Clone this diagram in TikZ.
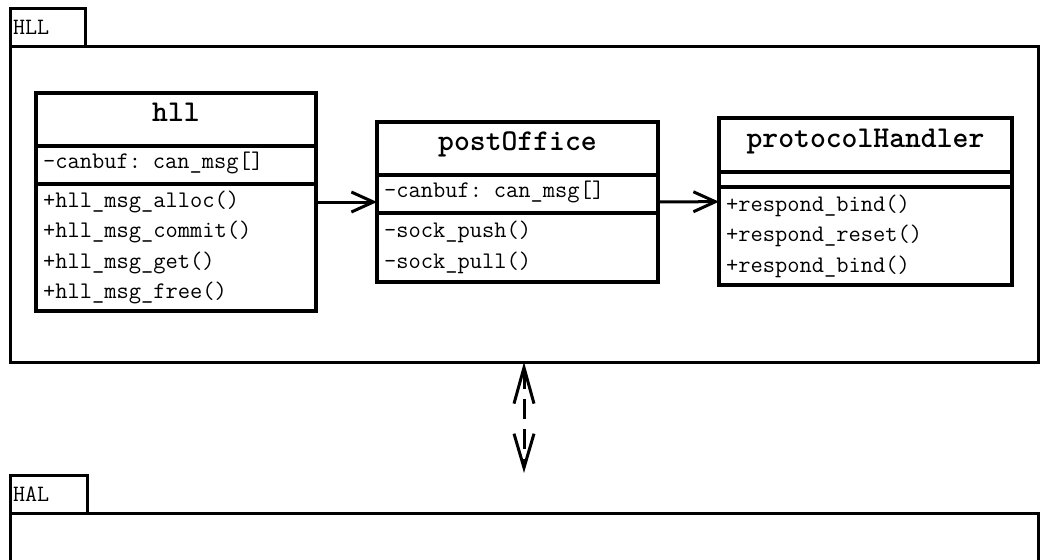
\documentclass[tikz,border=0pt]{standalone}
\usepackage{fontspec}
\usepackage{tikz}
\usetikzlibrary{arrows.meta}
\usetikzlibrary{positioning}
\usetikzlibrary{fit}
\tikzset{
pkgframe/.style={draw, line width=1.5pt, inner sep=0pt, outer sep=0pt},
pkgtab/.style={draw, line width=1.5pt, minimum height=19pt, inner xsep=1.5pt, inner ysep=0pt, outer sep=0pt, align=left, font=\ttfamily\fontsize{11.7}{12}\selectfont},
classname/.style={draw, line width=1.6pt, inner sep=0pt, outer sep=0pt, font=\ttfamily\bfseries\fontsize{15.1}{16}\selectfont, text height=7pt, text depth=5pt},
classpart/.style={draw, line width=1.6pt, inner xsep=3.5pt, inner ysep=0pt, outer sep=0pt, align=left, font=\ttfamily\fontsize{11.9}{15.25}\selectfont},
attrs/.style={classpart, text height=7pt, text depth=3.5pt},
classbox/.style={inner sep=0pt, outer sep=0pt},
assoc/.style={line width=1.5pt, -{Straight Barb[length=11pt,width=10pt]}},
dep/.style={line width=1.5pt, dash pattern=on 10pt off 5pt, {Straight Barb[length=18pt,width=10pt]}-{Straight Barb[length=17pt,width=10pt]}}
}
\begin{document}
\begin{tikzpicture}[x=0.5pt, y=-0.5pt]
    \useasboundingbox (0,0) rectangle (1045,559);
    \clip (0,0) rectangle (1045,559);

                \node[pkgframe, minimum width=514pt, minimum height=158pt] (hllframe) at (524,204) {};
                \node[pkgtab, minimum width=37.5pt, text width=34.5pt, anchor=south west] (hlltab) at (hllframe.north west) {HLL};
                \node[pkgframe, minimum width=514pt, minimum height=158pt] (halframe) at (524,671) {};
                \node[pkgtab, minimum width=38.5pt, text width=35.5pt, anchor=south west] (haltab) at (halframe.north west) {HAL};

                \node[classname, minimum width=140pt, minimum height=26.5pt] (hll) at (176,119.5) {hll};
                \node[attrs, minimum width=140pt, minimum height=19pt, text width=133pt, below=0pt of hll] (hll-attrs) {-canbuf: can\_msg[]};
                \node[classpart, minimum width=140pt, minimum height=63.5pt, text width=133pt, below=0pt of hll-attrs] (hll-ops) {+hll\_msg\_alloc()\\+hll\_msg\_commit()\\+hll\_msg\_get()\\+hll\_msg\_free()};
                \node[classbox, fit=(hll)(hll-ops)] (hll-box) {};

                \node[classname, minimum width=140.5pt, minimum height=26.5pt] (post) at (517.5,148.5) {postOffice};
                \node[attrs, minimum width=140.5pt, minimum height=19pt, text width=133.5pt, below=0pt of post] (post-attrs) {-canbuf: can\_msg[]};
                \node[classpart, minimum width=140.5pt, minimum height=34.5pt, text width=133.5pt, below=0pt of post-attrs] (post-ops) {-sock\_push()\\-sock\_pull()};
                \node[classbox, fit=(post)(post-ops)] (post-box) {};

                \node[classname, minimum width=146.5pt, minimum height=27pt] (proto) at (865.5,145) {protocolHandler};
                \node[classpart, minimum width=146.5pt, minimum height=7.5pt, text width=139.5pt, below=0pt of proto] (proto-attrs) {};
                \node[classpart, minimum width=146.5pt, minimum height=49pt, text width=139.5pt, below=0pt of proto-attrs] (proto-ops) {+respond\_bind()\\+respond\_reset()\\+respond\_bind()};
                \node[classbox, fit=(proto)(proto-ops)] (proto-box) {};

                \draw[assoc] (hll-box) -- (post-box);
                \draw[assoc] (post-box) -- (proto-box);

                \coordinate (halend) at (524,473);
                \draw[dep] (hllframe.south) -- (halend);

            \end{tikzpicture}
\end{document}
